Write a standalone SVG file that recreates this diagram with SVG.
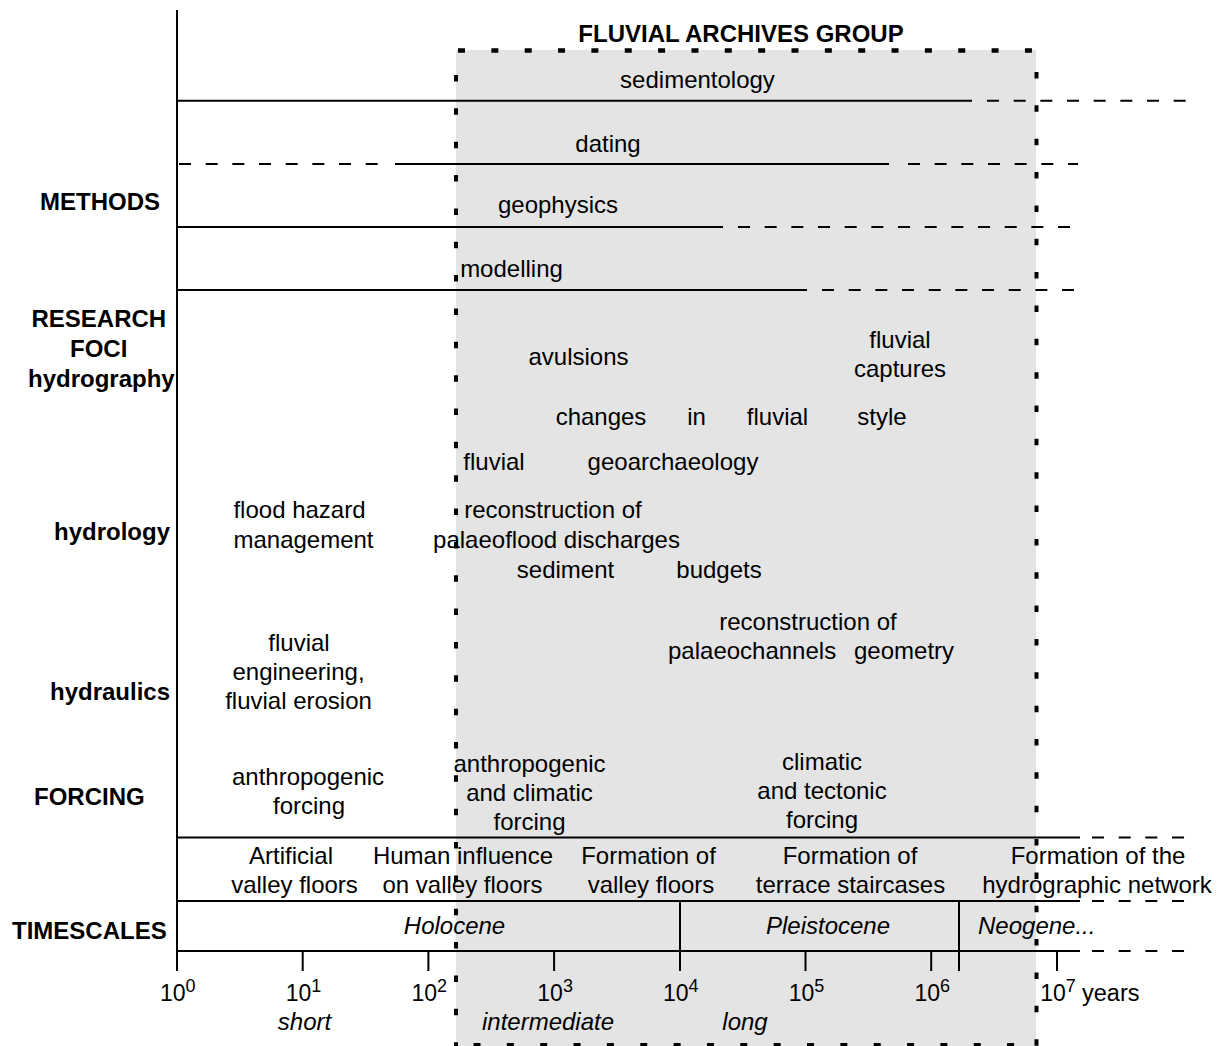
<svg xmlns="http://www.w3.org/2000/svg" width="1222" height="1046" viewBox="0 0 1222 1046">
<style>
.t{font-family:"Liberation Sans",Arial,Helvetica,sans-serif;font-size:24px;fill:#000}
.b{font-weight:bold}
.i{font-style:italic}
.m{text-anchor:middle}
.n{font-size:23px}
.sup{font-size:18px}
.ln{stroke:#000;stroke-width:2;fill:none}
.ds{stroke-dasharray:12 14.67}
.dot{stroke:#000;stroke-width:4;fill:none;stroke-dasharray:6.5 26.85}
</style>
<rect width="1222" height="1046" fill="#fff"/>
<g id="fag-box">
<rect x="456" y="50" width="580" height="996" fill="#e4e4e4"/>
</g>
<g id="title"><text class="t b m" x="741" y="41.5">FLUVIAL ARCHIVES GROUP</text></g>
<g id="row-labels">
<text class="t b" x="40" y="209.5">METHODS</text>
<text class="t b" x="31.5" y="327">RESEARCH</text>
<text class="t b" x="70" y="356.5">FOCI</text>
<text class="t b" x="28" y="386.5">hydrography</text>
<text class="t b" x="54" y="540">hydrology</text>
<text class="t b" x="50" y="700">hydraulics</text>
<text class="t b" x="34" y="805">FORCING</text>
<text class="t b" x="12" y="939">TIMESCALES</text>
</g>
<g id="methods">
<text class="t m" x="697.5" y="88">sedimentology</text>
<text class="t m" x="608" y="151.5">dating</text>
<text class="t m" x="558" y="213">geophysics</text>
<text class="t m" x="511.5" y="276.5">modelling</text>
</g>
<g id="foci-hydrography">
<text class="t m" x="578.5" y="365">avulsions</text>
<text class="t m" x="900" y="348">fluvial</text>
<text class="t m" x="900" y="377">captures</text>
<text class="t m" x="601" y="425">changes</text>
<text class="t m" x="696.5" y="425">in</text>
<text class="t m" x="777.5" y="425">fluvial</text>
<text class="t m" x="882" y="425">style</text>
<text class="t m" x="494" y="470">fluvial</text>
<text class="t m" x="673" y="470">geoarchaeology</text>
</g>
<g id="foci-hydrology">
<text class="t m" x="299.5" y="518">flood hazard</text>
<text class="t m" x="303.5" y="548">management</text>
<text class="t m" x="553" y="518">reconstruction of</text>
<text class="t m" x="556.5" y="548">palaeoflood discharges</text>
<text class="t m" x="565.5" y="578">sediment</text>
<text class="t m" x="719" y="578">budgets</text>
</g>
<g id="foci-hydraulics">
<text class="t m" x="808" y="630">reconstruction of</text>
<text class="t" x="668" y="659">palaeochannels</text>
<text class="t" x="854" y="659">geometry</text>
<text class="t m" x="299" y="651">fluvial</text>
<text class="t m" x="298.5" y="680">engineering,</text>
<text class="t m" x="298.5" y="709">fluvial erosion</text>
</g>
<g id="forcing">
<text class="t m" x="308" y="785">anthropogenic</text>
<text class="t m" x="309" y="814">forcing</text>
<text class="t m" x="529.5" y="772">anthropogenic</text>
<text class="t m" x="529.5" y="801">and climatic</text>
<text class="t m" x="529.5" y="830">forcing</text>
<text class="t m" x="822" y="770">climatic</text>
<text class="t m" x="822" y="799">and tectonic</text>
<text class="t m" x="822" y="828">forcing</text>
</g>
<g id="landforms">
<text class="t m" x="291" y="863.5">Artificial</text>
<text class="t m" x="294.5" y="892.5">valley floors</text>
<text class="t m" x="463" y="863.5">Human influence</text>
<text class="t m" x="462.5" y="892.5">on valley floors</text>
<text class="t m" x="648.5" y="863.5">Formation of</text>
<text class="t m" x="651" y="892.5">valley floors</text>
<text class="t m" x="850" y="863.5">Formation of</text>
<text class="t m" x="850.5" y="892.5">terrace staircases</text>
<text class="t m" x="1098" y="863.5">Formation of the</text>
<text class="t m" x="1097" y="892.5">hydrographic network</text>
</g>
<g id="epochs">
<text class="t i m" x="454.5" y="934">Holocene</text>
<text class="t i m" x="828" y="934">Pleistocene</text>
<text class="t i" x="978" y="934">Neogene...</text>
</g>
<g id="connectors">
<line class="ln" x1="177" y1="10" x2="177" y2="971"/>
<line class="ln" x1="177" y1="100.7" x2="972" y2="100.7"/>
<line class="ln ds" x1="987" y1="100.7" x2="1187" y2="100.7"/>
<line class="ln ds" x1="179" y1="164" x2="385" y2="164"/>
<line class="ln" x1="395" y1="164" x2="889" y2="164"/>
<line class="ln ds" x1="908" y1="164" x2="1078" y2="164"/>
<line class="ln" x1="177" y1="227" x2="723" y2="227"/>
<line class="ln ds" x1="738" y1="227" x2="1071" y2="227"/>
<line class="ln" x1="177" y1="290" x2="807" y2="290"/>
<line class="ln ds" x1="822" y1="290" x2="1074" y2="290"/>
<line class="ln" x1="177" y1="837.5" x2="1080" y2="837.5"/>
<line class="ln ds" x1="1092" y1="837.5" x2="1188" y2="837.5"/>
<line class="ln" x1="177" y1="901" x2="1080" y2="901"/>
<line class="ln ds" x1="1092" y1="901" x2="1188" y2="901"/>
<line class="ln" x1="177" y1="951" x2="1080" y2="951"/>
<line class="ln ds" x1="1092" y1="951" x2="1188" y2="951"/>
<line class="ln" x1="680" y1="901" x2="680" y2="971"/>
<line class="ln" x1="959" y1="901" x2="959" y2="971"/>
<line class="ln" x1="302.7" y1="951" x2="302.7" y2="971"/>
<line class="ln" x1="428.4" y1="951" x2="428.4" y2="971"/>
<line class="ln" x1="554.1" y1="951" x2="554.1" y2="971"/>
<line class="ln" x1="805.5" y1="951" x2="805.5" y2="971"/>
<line class="ln" x1="931.2" y1="951" x2="931.2" y2="971"/>
<line class="ln" x1="1057" y1="951" x2="1057" y2="971"/>
</g>
<g id="axis-labels">
<text class="t n" x="160" y="1000.5">10<tspan class="sup" dy="-9">0</tspan></text>
<text class="t n" x="285.7" y="1000.5">10<tspan class="sup" dy="-9">1</tspan></text>
<text class="t n" x="411.4" y="1000.5">10<tspan class="sup" dy="-9">2</tspan></text>
<text class="t n" x="537.3" y="1000.5">10<tspan class="sup" dy="-9">3</tspan></text>
<text class="t n" x="663" y="1000.5">10<tspan class="sup" dy="-9">4</tspan></text>
<text class="t n" x="788.7" y="1000.5">10<tspan class="sup" dy="-9">5</tspan></text>
<text class="t n" x="914.4" y="1000.5">10<tspan class="sup" dy="-9">6</tspan></text>
<text class="t n" x="1040.2" y="1000.5">10<tspan class="sup" dy="-9">7</tspan><tspan x="1075.5" y="1000.5" style="font-size:23.5px"> years</tspan></text>
<text class="t i m" x="304.5" y="1030">short</text>
<text class="t i m" x="548" y="1030">intermediate</text>
<text class="t i m" x="745" y="1030">long</text>
</g>
<g id="fag-border">
<line class="dot" x1="458" y1="50.5" x2="1036" y2="50.5" style="stroke-width:4.5;stroke-dasharray:7 26.35"/>
<line class="dot" x1="456" y1="75" x2="456" y2="1046"/>
<line class="dot" x1="1036.5" y1="72" x2="1036.5" y2="1046"/>
<line class="dot" x1="473.5" y1="1045" x2="1036" y2="1045" style="stroke-dasharray:7 26.35"/>
</g>
</svg>
